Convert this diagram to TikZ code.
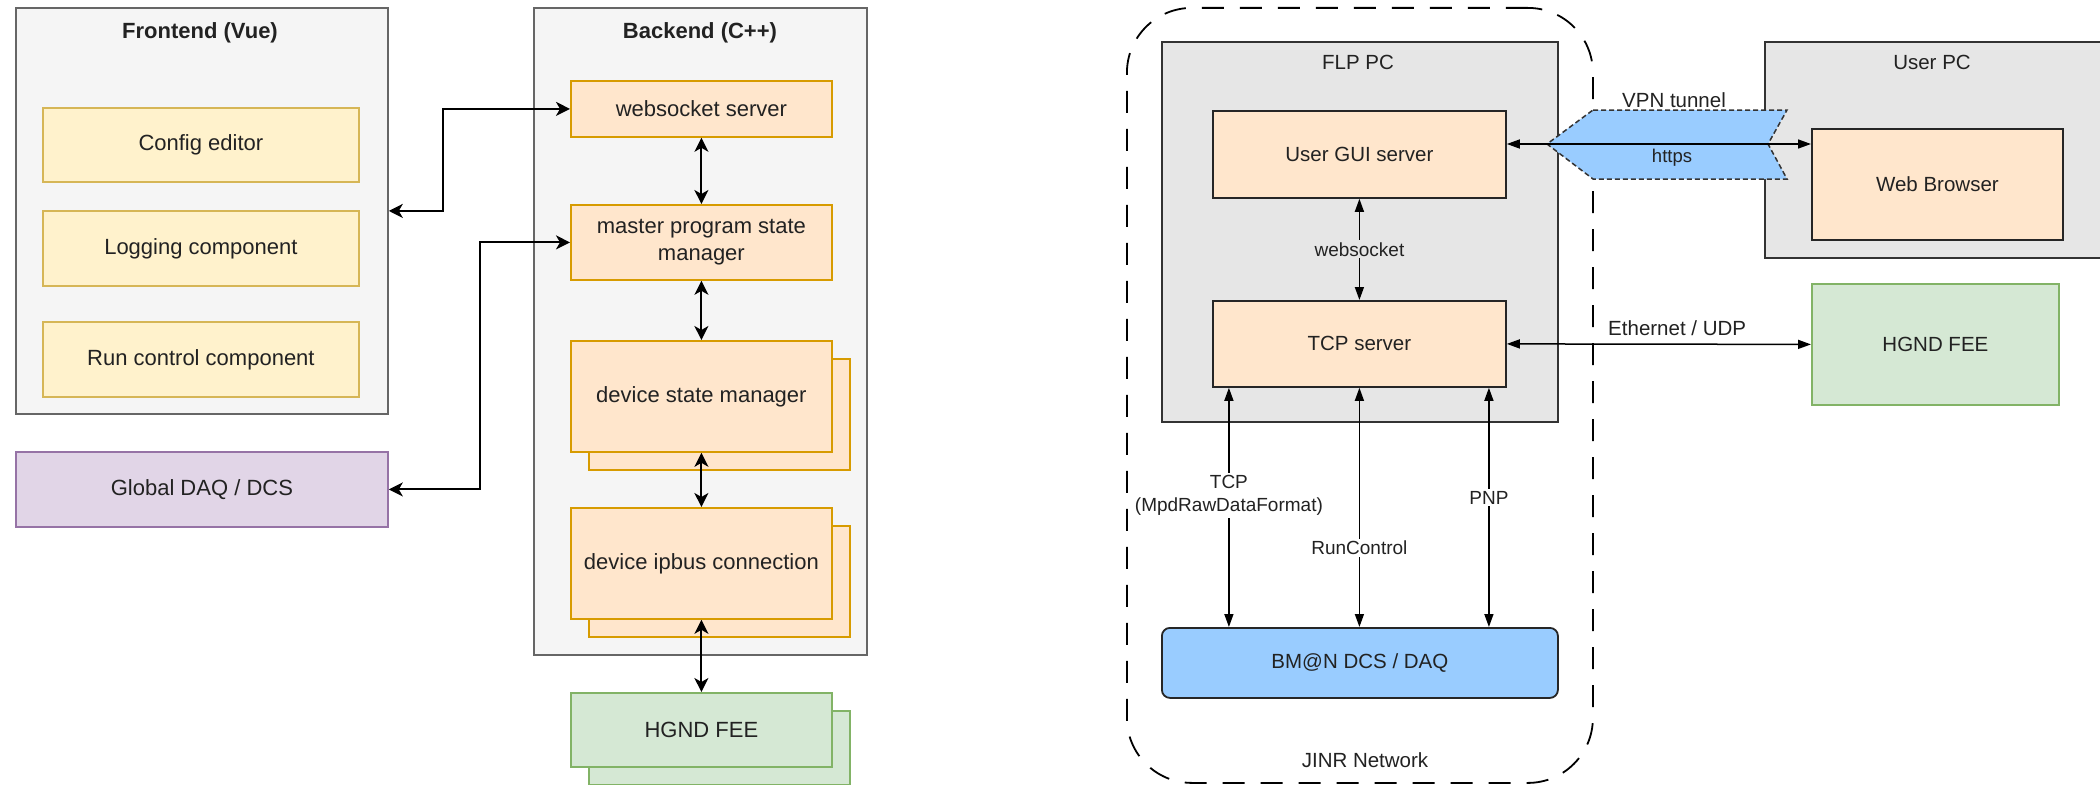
\documentclass[tikz,border=0pt]{standalone}
\usepackage{fontspec}
\setmainfont{Liberation Sans}
\usetikzlibrary{arrows.meta}

\definecolor{txt}{HTML}{222222}
\definecolor{grpfill}{HTML}{F5F5F5}
\definecolor{grpline}{HTML}{666666}
\definecolor{yelfill}{HTML}{FFF2CC}
\definecolor{yelline}{HTML}{D6B656}
\definecolor{orgfill}{HTML}{FFE6CC}
\definecolor{orgline}{HTML}{D79B00}
\definecolor{grnfill}{HTML}{D5E8D4}
\definecolor{grnline}{HTML}{82B366}
\definecolor{purfill}{HTML}{E1D5E7}
\definecolor{purline}{HTML}{9673A6}
\definecolor{pcfill}{HTML}{E6E6E6}
\definecolor{pcline}{HTML}{333333}
\definecolor{netblue}{HTML}{99CCFF}

\tikzset{
  box/.style={anchor=north west, inner sep=0pt, line width=1.8pt, text=txt, align=center,
    font=\fontsize{22}{27}\selectfont},
  grp/.style={box, draw=grpline, fill=grpfill},
  ybox/.style={box, draw=yelline, fill=yelfill},
  obox/.style={box, draw=orgline, fill=orgfill},
  gbox/.style={box, draw=grnline, fill=grnfill},
  pbox/.style={box, draw=purline, fill=purfill},
  pcbox/.style={box, draw=pcline, fill=pcfill},
  srvbox/.style={box, draw=black!85, fill=orgfill, font=\fontsize{20.5}{25}\selectfont},
  grptitle/.style={text=txt, font=\bfseries\fontsize{22}{26}\selectfont},
  pctitle/.style={text=txt, font=\fontsize{20.5}{24}\selectfont},
  elbl/.style={text=txt, fill=white, inner sep=2pt, align=center, font=\fontsize{19}{23}\selectfont},
  larr/.style={<->, >={Stealth[length=14pt,width=14pt,inset=4pt]}, line width=2pt},
  rarr/.style={<->, >={Triangle[length=13pt,width=9pt]}, line width=1.5pt},
}

\begin{document}
\begin{tikzpicture}[x=1pt,y=-1pt]
\clip (0,0) rectangle (2100,784);

% frontend / backend
\node[grp, minimum width=372pt, minimum height=406pt] (front) at (15,7) {};
\node[grptitle] (fronttitle) at (200,33) {Frontend (Vue)};
\node[ybox, minimum width=316pt, minimum height=74pt] (cfg) at (42,107) {Config editor};
\node[ybox, minimum width=316pt, minimum height=75pt] (logc) at (42,210) {Logging component};
\node[ybox, minimum width=316pt, minimum height=75pt] (runc) at (42,321) {Run control component};
\node[pbox, minimum width=372pt, minimum height=75pt] (gdaq) at (15,451) {Global DAQ / DCS};

\node[grp, minimum width=333pt, minimum height=647pt] (back) at (533,7) {};
\node[grptitle] (backtitle) at (700,33) {Backend (C++)};
\node[obox, minimum width=261pt, minimum height=56pt] (ws) at (570,80) {websocket server};
\node[obox, minimum width=261pt, minimum height=75pt] (master) at (570,204) {master program state\\manager};
\node[obox, minimum width=261pt, minimum height=111pt] (devstb) at (588,358) {};
\node[obox, minimum width=261pt, minimum height=111pt] (devst) at (570,340) {device state manager};
\node[obox, minimum width=261pt, minimum height=111pt] (ipbusb) at (588,525) {};
\node[obox, minimum width=261pt, minimum height=111pt] (ipbus) at (570,507) {device ipbus connection};
\node[gbox, minimum width=261pt, minimum height=74pt] (feeb) at (588,710) {};
\node[gbox, minimum width=261pt, minimum height=74pt] (fee) at (570,692) {HGND FEE};

\draw[larr] (front.east) -- ++(54,0) |- (ws.west);
\draw[larr] (gdaq.east) -- ++(91,0) |- (master.west);
\draw[larr] (ws.south) -- (master.north);
\draw[larr] (master.south) -- (devst.north);
\draw[larr] (devst.south) -- (ipbus.north);
\draw[larr] (ipbus.south) -- (fee.north);

% JINR network / user PC
\node[box, draw=black, dash pattern=on 22pt off 16pt, rounded corners=65pt,
  minimum width=466pt, minimum height=775pt] (jinr) at (1126,7) {};
\node[pctitle] (jinrtitle) at (1365,760) {JINR Network};
\node[pcbox, minimum width=396pt, minimum height=380pt] (flp) at (1161,41) {};
\node[pctitle] (flptitle) at (1358,62) {FLP PC};
\node[srvbox, minimum width=293pt, minimum height=87pt] (gui) at (1212,110) {User GUI server};
\node[srvbox, minimum width=293pt, minimum height=86pt] (tcp) at (1212,300) {TCP server};
\node[srvbox, fill=netblue, rounded corners=8pt, minimum width=396pt, minimum height=70pt] (bman) at (1161,627) {BM@N DCS / DAQ};

\node[pcbox, minimum width=360pt, minimum height=216pt] (userpc) at (1764,41) {};
\node[pctitle] (usertitle) at (1932,62) {User PC};
\node[srvbox, minimum width=251pt, minimum height=111pt] (browser) at (1811,128) {Web Browser};
\node[gbox, font=\fontsize{20.5}{25}\selectfont, minimum width=247pt, minimum height=121pt] (fee2) at (1811,283) {HGND FEE};

% vpn tunnel
\draw[fill=netblue, draw=black!80, line width=1.5pt, dash pattern=on 5pt off 3pt]
  (1593,110) -- (1787,110) -- (1768,144) -- (1787,179) -- (1593,179) -- (1547,144) -- cycle;
\node[pctitle] (vpnlbl) at (1674,100) {VPN tunnel};
\node[text=txt, font=\fontsize{18.5}{22}\selectfont] (httpslbl) at (1672,158) {https};
\coordinate (vpnmid) at (1670,144);

\draw[rarr] (gui.east |- vpnmid) -- (browser.west |- vpnmid);
\draw[rarr] (tcp.east) -- node[pos=0.56, above=4pt, text=txt, font=\fontsize{20.5}{24}\selectfont] (ethlbl) {Ethernet / UDP} (fee2.west);
\draw[rarr] (gui.south) -- node[elbl, fill=pcfill] (wslbl) {websocket} (tcp.north);
\draw[rarr] ([xshift=-130.5pt]tcp.south) -- node[elbl, pos=0.45] (tcplbl) {TCP\\(MpdRawDataFormat)} ([xshift=-131pt]bman.north);
\draw[rarr] (tcp.south) -- node[elbl, pos=0.67] (rclbl) {RunControl} (tcp.south |- bman.north);
\draw[rarr] ([xshift=129.5pt]tcp.south) -- node[elbl, pos=0.46] (pnplbl) {PNP} ([xshift=129pt]bman.north);
\end{tikzpicture}
\end{document}
